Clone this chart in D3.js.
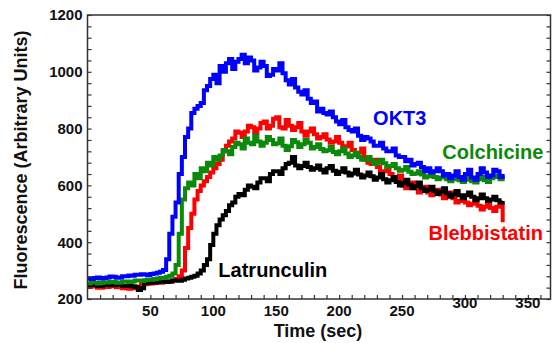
<!DOCTYPE html>
<html>
<head>
<meta charset="utf-8">
<script src="https://cdn.jsdelivr.net/npm/d3@7"></script>
<style>
  body { margin: 0; background: #fff; }
  svg text { font-family: "Liberation Sans", Arial, sans-serif; font-weight: bold; }
</style>
</head>
<body>
<div id="chart"></div>
<script>
// sampling grid, one reading every 2.5 sec from 0 to 330
const time = d3.range(0, 330.01, 2.5);

// each row below = 25 sec of readings
const okt3 = [
  272, 270, 274, 276, 272, 274, 276, 279, 278, 275,
  276, 280, 280, 283, 282, 285, 285, 287, 286, 284,
  288, 290, 292, 296, 302, 340, 430, 490, 540, 640,
  700, 770, 800, 855, 870, 880, 890, 935, 950, 975,
  990, 960, 1020, 1000, 1030, 1045, 1010, 1035, 1045, 1060,
  1030, 1050, 1040, 1005, 1015, 1035, 1020, 985, 990, 1010,
  1005, 1030, 995, 970, 955, 975, 945, 930, 920, 935,
  905, 890, 895, 860, 870, 855, 850, 860, 840, 825,
  815, 830, 805, 795, 790, 800, 775, 760, 770, 765,
  755, 740, 740, 750, 730, 720, 720, 730, 705, 700,
  700, 685, 690, 670, 675, 680, 665, 650, 660, 645,
  650, 660, 650, 635, 640, 625, 635, 650, 630, 620,
  640, 655, 628, 620, 640, 660, 645, 630, 635, 655,
  650, 630, 640];

const colchicine = [
  255, 258, 258, 255, 256, 259, 258, 261, 260, 257,
  258, 262, 262, 260, 262, 265, 265, 263, 266, 268,
  268, 270, 272, 275, 275, 278, 282, 290, 320, 430,
  550, 590, 610, 600, 640, 625, 660, 650, 680, 670,
  700, 690, 705, 725, 720, 710, 735, 750, 745, 730,
  765, 750, 745, 775, 755, 740, 750, 770, 760, 745,
  748, 765, 740, 725, 738, 760, 752, 735, 745, 760,
  750, 730, 735, 745, 728, 720, 724, 735, 718, 710,
  720, 730, 712, 700, 705, 715, 700, 690, 690, 700,
  688, 675, 680, 690, 678, 665, 668, 675, 660, 652,
  655, 665, 648, 640, 642, 650, 638, 628, 632, 640,
  630, 622, 628, 635, 622, 615, 622, 630, 618, 612,
  620, 628, 615, 610, 622, 630, 618, 612, 625, 635,
  630, 622, 632];

const blebbistatin = [
  242, 246, 244, 240, 240, 243, 242, 246, 245, 241,
  243, 238, 240, 236, 238, 242, 244, 250, 252, 254,
  255, 256, 258, 257, 260, 261, 262, 265, 270, 280,
  300, 380, 450, 500, 550, 580, 600, 615, 630, 645,
  660, 675, 690, 720, 740, 755, 765, 790, 785, 770,
  790, 810, 805, 785, 800, 820, 825, 800, 810, 835,
  840, 805, 800, 830, 810, 795, 805, 820, 790, 775,
  790, 800, 780, 765, 770, 780, 762, 750, 755, 770,
  750, 735, 738, 750, 725, 710, 715, 730, 690, 680,
  675, 690, 665, 650, 650, 660, 640, 625, 620, 635,
  600, 590, 598, 610, 590, 575, 580, 595, 575, 565,
  572, 585, 568, 555, 565, 575, 555, 540, 545, 560,
  540, 530, 535, 548, 528, 515, 525, 538, 520, 510,
  525, 530, 470];

const latrunculin = [
  248, 252, 250, 246, 247, 251, 250, 248, 248, 252,
  250, 247, 246, 249, 245, 242, 232, 238, 258, 256,
  260, 258, 260, 262, 262, 260, 262, 265, 265, 264,
  268, 272, 275, 278, 282, 290, 300, 320, 340, 390,
  430, 460, 480, 495, 510, 530, 540, 560, 570, 565,
  585, 600, 595, 590, 610, 625, 625, 615, 640, 650,
  650, 640, 660, 675, 680, 700, 670, 660, 668, 680,
  665, 655, 660, 670, 655, 645, 660, 668, 652, 640,
  648, 660, 645, 635, 642, 655, 638, 628, 635, 645,
  632, 620, 628, 640, 622, 610, 618, 630, 612, 600,
  608, 620, 602, 590, 598, 610, 590, 580, 585, 595,
  580, 570, 578, 590, 572, 560, 568, 580, 565, 555,
  565, 575, 560, 548, 555, 568, 555, 545, 550, 560,
  548, 540, 545];

const seriesNames = ['Blebbistatin', 'Latrunculin', 'Colchicine', 'OKT3'];
const seriesColors = ['#ff0000', '#000000', '#0a8a0a', '#0000ff'];
const seriesValues = [blebbistatin, latrunculin, colchicine, okt3];

// label anchor positions in data units (time, fluorescence)
const labelT = [271, 104, 282, 227];
const labelV = [408, 277, 693, 813];

const xTicks = [50, 100, 150, 200, 250, 300, 350];
const yTicks = [200, 400, 600, 800, 1000, 1200];

const width = 552;
const height = 343;
const margin = { top: 15, right: 1.5, bottom: 44, left: 87.5 };

const svg = d3.select('#chart').append('svg')
  .attr('width', width)
  .attr('height', height);

const x = d3.scaleLinear().domain([0, 368]).range([margin.left, width - margin.right]);
const y = d3.scaleLinear().domain([200, 1200]).range([height - margin.bottom, margin.top]);

// series
const line = d3.line()
  .x(d => x(d[0]))
  .y(d => y(d[1]))
  .curve(d3.curveStepAfter);

seriesValues.forEach((vals, i) => {
  svg.append('path')
    .datum(time.map((t, j) => [t, vals[j]]))
    .attr('fill', 'none')
    .attr('stroke', seriesColors[i])
    .attr('stroke-width', 4)
    .attr('d', line);
});

// frame
const frameColor = '#333';
svg.append('rect')
  .attr('x', x(0))
  .attr('y', y(1200))
  .attr('width', x(368) - x(0))
  .attr('height', y(200) - y(1200))
  .attr('fill', 'none')
  .attr('stroke', frameColor)
  .attr('stroke-width', 1.5);

// x axis, inward minor ticks every 10 sec
const xAxis = d3.axisBottom(x)
  .tickValues(d3.range(10, 368, 10))
  .tickSize(-4)
  .tickFormat('');
svg.append('g')
  .attr('transform', `translate(0,${y(200)})`)
  .call(xAxis)
  .call(g => g.select('.domain').remove())
  .call(g => g.selectAll('line').attr('stroke', frameColor).attr('stroke-width', 1.2));

svg.append('g')
  .selectAll('text')
  .data(xTicks)
  .join('text')
  .attr('x', d => x(d))
  .attr('y', d => y(200) + (d >= 300 ? 9 : 17))
  .attr('text-anchor', 'middle')
  .attr('font-size', 15)
  .attr('fill', '#111')
  .text(d => d);

// y axes (left + right), inward ticks every 40
const yMinor = d3.range(200, 1201, 40);
const yLeft = d3.axisLeft(y).tickValues(yMinor).tickSize(-4).tickFormat('');
svg.append('g')
  .attr('transform', `translate(${x(0)},0)`)
  .call(yLeft)
  .call(g => g.select('.domain').remove())
  .call(g => g.selectAll('line').attr('stroke', frameColor).attr('stroke-width', 1.2));

const yRight = d3.axisRight(y).tickValues(yMinor).tickSize(-4).tickFormat('');
svg.append('g')
  .attr('transform', `translate(${x(368)},0)`)
  .call(yRight)
  .call(g => g.select('.domain').remove())
  .call(g => g.selectAll('line').attr('stroke', frameColor).attr('stroke-width', 1.2));

svg.append('g')
  .selectAll('text')
  .data(yTicks)
  .join('text')
  .attr('x', x(0) - 5)
  .attr('y', d => y(d))
  .attr('dy', '0.36em')
  .attr('text-anchor', 'end')
  .attr('font-size', 15)
  .attr('fill', '#111')
  .text(d => d);

// axis titles
svg.append('text')
  .attr('x', 318)
  .attr('y', 337)
  .attr('text-anchor', 'middle')
  .attr('font-size', 18)
  .attr('fill', '#111')
  .text('Time (sec)');

svg.append('text')
  .attr('transform', 'translate(27,160) rotate(-90)')
  .attr('text-anchor', 'middle')
  .attr('font-size', 18)
  .attr('fill', '#111')
  .text('Fluorescence (Arbitrary Units)');

// series labels
svg.append('g')
  .selectAll('text')
  .data(seriesNames)
  .join('text')
  .attr('x', (d, i) => x(labelT[i]))
  .attr('y', (d, i) => y(labelV[i]))
  .attr('font-size', 20)
  .attr('fill', (d, i) => seriesColors[i])
  .text(d => d);
</script>
</body>
</html>
